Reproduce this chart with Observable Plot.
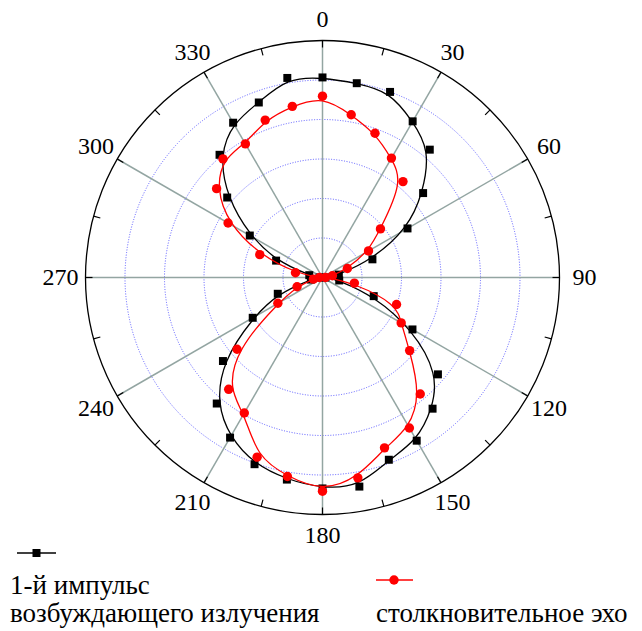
<!DOCTYPE html>
<html>
<head>
<meta charset="utf-8">
<script src="https://cdn.jsdelivr.net/npm/d3@7"></script>
<script src="https://cdn.jsdelivr.net/npm/@observablehq/plot@0.6"></script>
<style>
  html, body { margin: 0; padding: 0; background: #fff; }
  #wrap { position: relative; width: 642px; height: 631px; overflow: hidden; font-family: "Liberation Serif", "DejaVu Serif", "Noto Serif", Tinos, "Times New Roman", Times, serif; }
  #chart svg { display: block; }
  .leg { position: absolute; white-space: nowrap; font-size: 27px; line-height: 28px; color: #000; }
  .sw { position: absolute; }
</style>
</head>
<body>
<div id="wrap">
  <div id="chart"></div>
  <svg class="sw" style="left:16px;top:547px" width="42" height="12"><line x1="1" y1="6" x2="40" y2="6" stroke="black" stroke-width="1.3"/><rect x="16.5" y="2" width="8" height="8" fill="black"/></svg>
  <div class="leg" style="left:10px;top:571px">1-й импульс<br>возбуждающего излучения</div>
  <svg class="sw" style="left:375px;top:574px" width="40" height="12"><line x1="1" y1="6" x2="38" y2="6" stroke="#ff0000" stroke-width="1.3"/><circle cx="19" cy="6" r="4.7" fill="#ff0000"/></svg>
  <div class="leg" style="left:376px;top:599px">столкновительное эхо</div>
</div>
<script>
// angle (degrees, clockwise from top)
const angles = [0,10,20,30,40,50,60,70,80,90,100,110,120,130,140,150,160,170,180,190,200,210,220,230,240,250,260,270,280,290,300,310,320,330,340,350];
// 1-й импульс возбуждающего излучения (black squares)
const firstPulse = [1.013,0.999,1.000,0.913,0.845,0.665,0.497,0.269,0.084,0.015,0.086,0.276,0.526,0.763,0.867,0.954,0.982,1.075,1.068,1.039,1.006,0.936,0.833,0.658,0.408,0.241,0.060,0.015,0.068,0.250,0.425,0.630,0.811,0.905,0.943,1.026];
// столкновительное эхо (red circles)
const collisionEcho = [0.918,0.837,0.777,0.698,0.634,0.383,0.269,0.134,0.051,0.015,0.164,0.399,0.460,0.576,0.770,0.880,0.918,1.030,1.082,1.023,0.968,0.792,0.739,0.565,0.261,0.137,0.047,0.015,0.139,0.338,0.552,0.700,0.784,0.781,0.848,0.880];
// angular axis
const labelAngles = [0,30,60,90,120,150,180,210,240,270,300,330];
const labelTexts = ["0","30","60","90","120","150","180","210","240","270","300","330"];
const tickAngles = [0,15,30,45,60,75,90,105,120,135,150,165,180,195,210,225,240,255,270,285,300,315,330,345];
// radial grid
const rings = [0.2,0.4,0.6,0.8,1.0];
const rMax = 1.2;

const serif = "'Liberation Serif', 'DejaVu Serif', 'Noto Serif', Tinos, 'Times New Roman', Times, serif";
const rad = a => a * Math.PI / 180;
const px = (a, r) => r * Math.sin(rad(a));
const py = (a, r) => r * Math.cos(rad(a));

const black = angles.map((a, i) => ({a, r: firstPulse[i]}));
const red = angles.map((a, i) => ({a, r: collisionEcho[i]}));
const labels = labelAngles.map((a, i) => ({a, t: labelTexts[i]}));
const unit = 197.5; // px per unit (for label offset only)
const labelR = a => (258 + 4 * Math.abs(Math.sin(rad(a)))) / unit;
const tickIn = rMax - 7 / unit;

const chart = Plot.plot({
  width: 642,
  height: 545,
  marginLeft: 85,
  marginRight: 83,
  marginTop: 40,
  marginBottom: 31,
  x: {domain: [-rMax, rMax], axis: null},
  y: {domain: [-rMax, rMax], axis: null},
  r: {type: "linear", domain: [0, rMax], range: [0, 237]},
  style: {background: "white", overflow: "visible", fontFamily: serif},
  marks: [
    Plot.dot(rings, {x: 0, y: 0, r: d => d, fill: "none", stroke: "#5a5aff", strokeWidth: 1, strokeDasharray: "1 1.6"}),
    Plot.link(labelAngles, {x1: 0, y1: 0, x2: a => px(a, rMax), y2: a => py(a, rMax), stroke: "#93a5a2", strokeWidth: 1.5}),
    Plot.dot([rMax], {x: 0, y: 0, r: d => d, fill: "none", stroke: "black", strokeWidth: 1.3}),
    Plot.link(tickAngles, {x1: a => px(a, rMax), y1: a => py(a, rMax), x2: a => px(a, tickIn), y2: a => py(a, tickIn), stroke: "black", strokeWidth: 1.2}),
    Plot.text(labels, {x: d => px(d.a, labelR(d.a)), y: d => py(d.a, labelR(d.a)), text: "t", fontSize: 24, fontFamily: serif, fill: "black"}),
    Plot.line(black, {x: d => px(d.a, d.r), y: d => py(d.a, d.r), curve: "basis-closed", stroke: "black", strokeWidth: 1.3}),
    Plot.dot(black, {x: d => px(d.a, d.r), y: d => py(d.a, d.r), symbol: "square", r: 4.5, fill: "black", stroke: "none"}),
    Plot.line(red, {x: d => px(d.a, d.r), y: d => py(d.a, d.r), curve: "basis-closed", stroke: "#ff0000", strokeWidth: 1.3}),
    Plot.dot(red, {x: d => px(d.a, d.r), y: d => py(d.a, d.r), symbol: "circle", r: 4.7, fill: "#ff0000", stroke: "none"})
  ]
});
document.getElementById("chart").appendChild(chart);
</script>
</body>
</html>
